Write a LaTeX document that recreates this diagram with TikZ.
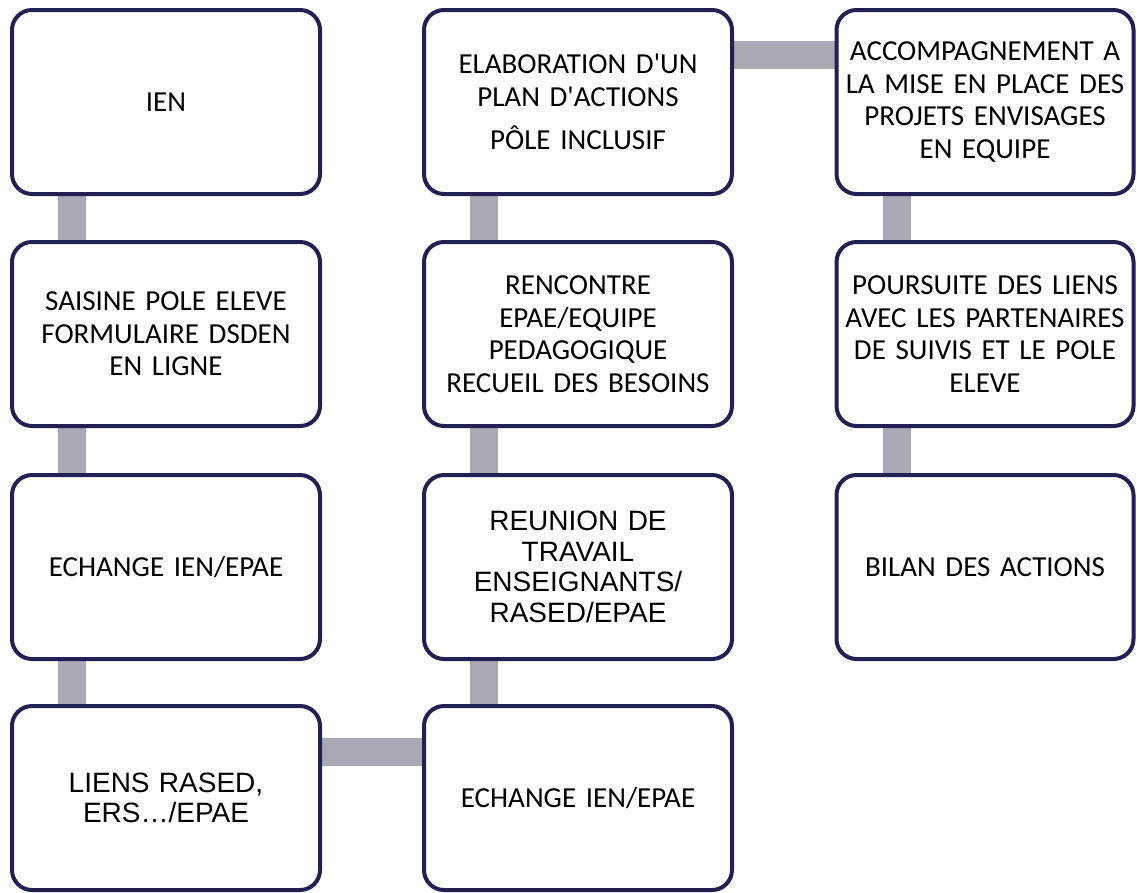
\documentclass[tikz,border=0pt]{standalone}
\usepackage{fontspec}
\setmainfont{Carlito}[Ligatures=TeXOff]
\newfontfamily\arialfont{Liberation Sans}
\usetikzlibrary{backgrounds}
\definecolor{boxline}{RGB}{32,32,82}
\definecolor{linkgray}{RGB}{169,169,179}
\begin{document}
\begin{tikzpicture}[x=1pt,y=-1pt,
  stage/.style={draw=boxline,line width=4pt,rounded corners=20pt,fill=white,
    minimum width=308pt,minimum height=184pt,text width=300pt,align=center,
    inner sep=0pt,font=\fontsize{29}{32.5}\selectfont},
  stageright/.style={stage,minimum width=297pt,text width=290pt},
  arialtext/.style={font=\arialfont\fontsize{28}{30.5}\selectfont},
  link/.style={draw=linkgray,line width=28pt}]
\useasboundingbox (0,0) rectangle (1137,892);
% first column
\node[stage] at (166,102) (ien) {IEN};
\node[stage] at (166,334) (saisine) {SAISINE POLE ELEVE\\FORMULAIRE DSDEN\\EN LIGNE};
\node[stage] at (166,567) (echangeA) {ECHANGE IEN/EPAE};
\node[stage,arialtext] at (166,798) (liens) {LIENS RASED,\\ERS…/EPAE};
% second column
\node[stage] at (578,102) (plan) {ELABORATION D'UN\\PLAN D'ACTIONS\\[11pt]PÔLE INCLUSIF};
\node[stage] at (578,334) (rencontre) {RENCONTRE\\EPAE/EQUIPE\\PEDAGOGIQUE\\RECUEIL DES BESOINS};
\node[stage,arialtext] at (578,567) (reunion) {REUNION DE\\TRAVAIL\\ENSEIGNANTS/\\RASED/EPAE};
\node[stage] at (578,798) (echangeB) {ECHANGE IEN/EPAE};
% third column
\node[stageright] at (985,102) (accomp) {ACCOMPAGNEMENT A\\LA MISE EN PLACE DES\\PROJETS ENVISAGES\\EN EQUIPE};
\node[stageright] at (985,334) (poursuite) {POURSUITE DES LIENS\\AVEC LES PARTENAIRES\\DE SUIVIS ET LE POLE\\ELEVE};
\node[stageright] at (985,567) (bilan) {BILAN DES ACTIONS};
\begin{scope}[on background layer]
\draw[link] ([xshift=62pt]ien.south west) -- ([xshift=62pt]saisine.north west);
\draw[link] ([xshift=62pt]saisine.south west) -- ([xshift=62pt]echangeA.north west);
\draw[link] ([xshift=62pt]echangeA.south west) -- ([xshift=62pt]liens.north west);
\draw[link] ([yshift=46pt]liens.east) -- ([yshift=46pt]echangeB.west);
\draw[link] ([xshift=62pt]echangeB.north west) -- ([xshift=62pt]reunion.south west);
\draw[link] ([xshift=62pt]reunion.north west) -- ([xshift=62pt]rencontre.south west);
\draw[link] ([xshift=62pt]rencontre.north west) -- ([xshift=62pt]plan.south west);
\draw[link] ([yshift=47pt]plan.east) -- ([yshift=47pt]accomp.west);
\draw[link] ([xshift=62pt]accomp.south west) -- ([xshift=62pt]poursuite.north west);
\draw[link] ([xshift=62pt]poursuite.south west) -- ([xshift=62pt]bilan.north west);
\end{scope}
\end{tikzpicture}
\end{document}
